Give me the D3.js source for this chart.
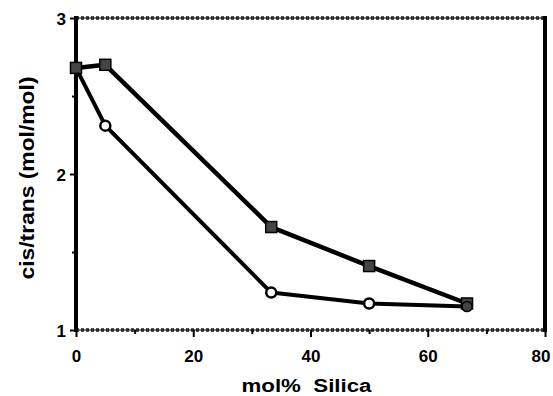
<!DOCTYPE html>
<html>
<head>
<meta charset="utf-8">
<script src="https://cdn.jsdelivr.net/npm/d3@7"></script>
<style>
  body { margin: 0; background: #fff; }
  text { font-family: "Liberation Sans", Arial, sans-serif; font-weight: bold; fill: #000; }
</style>
</head>
<body>
<svg id="chart" width="553" height="396"></svg>
<script>
const silica = [0, 5, 33.3, 50, 66.7];
const squareVals = [2.68, 2.70, 1.66, 1.41, 1.17];
const circleVals = [2.68, 2.31, 1.24, 1.17, 1.15];
const xTicks = [0, 20, 40, 60, 80];
const yTicks = [1, 2, 3];

const svg = d3.select("#chart"),
  margin = { top: 18, right: 8, bottom: 66, left: 76 },
  width = +svg.attr("width") - margin.left - margin.right,
  height = +svg.attr("height") - margin.top - margin.bottom;

const chart = svg.append("g")
  .attr("transform", `translate(${margin.left},${margin.top})`);

const x = d3.scaleLinear().domain([0, 80]).range([0, width]);
const y = d3.scaleLinear().domain([1, 3]).range([height, 0]);

// frame: stippled top/bottom, solid left/right
[0, height].forEach(yy => {
  chart.append("line").attr("x1", 0).attr("x2", width).attr("y1", yy).attr("y2", yy)
    .attr("stroke", "#555").attr("stroke-width", 4).attr("stroke-dasharray", "3,2");
  chart.append("line").attr("x1", 0).attr("x2", width).attr("y1", yy).attr("y2", yy)
    .attr("stroke", "#000").attr("stroke-width", 1.2);
});
[0, width].forEach(xx => {
  chart.append("line").attr("x1", xx).attr("x2", xx).attr("y1", -2).attr("y2", height + 2)
    .attr("stroke", "#000").attr("stroke-width", 4);
});

const xAxis = chart.append("g")
  .attr("transform", `translate(0,${height})`)
  .call(d3.axisBottom(x).tickValues(d3.range(0, 81, 10))
    .tickFormat(d => xTicks.includes(d) ? d : "")
    .tickSize(6).tickPadding(14));
xAxis.select(".domain").remove();
xAxis.selectAll("line").attr("stroke-width", 2)
  .attr("y2", d => xTicks.includes(d) ? 7 : 4);
xAxis.selectAll("text").attr("font-size", 17)
  .style("font-family", "Liberation Sans, Arial, sans-serif").style("font-weight", "bold");
xAxis.selectAll("text").filter(d => d === 80)
  .attr("text-anchor", "end").attr("dx", 5);

const yAxis = chart.append("g")
  .call(d3.axisLeft(y).tickValues([1, 1.5, 2, 2.5, 3])
    .tickFormat(d => yTicks.includes(d) ? d : "")
    .tickSize(5).tickPadding(5));
yAxis.select(".domain").remove();
yAxis.selectAll("line").attr("stroke-width", 2)
  .attr("x2", d => yTicks.includes(d) ? -6 : -4);
yAxis.selectAll("text").attr("font-size", 17).attr("dy", "0.36em")
  .style("font-family", "Liberation Sans, Arial, sans-serif").style("font-weight", "bold");

chart.append("text")
  .attr("text-anchor", "middle")
  .attr("x", x(40) - 4)
  .attr("y", height + 62)
  .attr("font-size", 18)
  .attr("textLength", 130)
  .attr("lengthAdjust", "spacingAndGlyphs")
  .attr("xml:space", "preserve")
  .text("mol%  Silica");

chart.append("text")
  .attr("text-anchor", "middle")
  .attr("transform", "rotate(-90)")
  .attr("x", -(178 - margin.top))
  .attr("y", -42)
  .attr("font-size", 20)
  .attr("textLength", 203)
  .attr("lengthAdjust", "spacingAndGlyphs")
  .text("cis/trans (mol/mol)");

const line = d3.line().x(d => x(d[0])).y(d => y(d[1]));
const squares = silica.map((s, i) => [s, squareVals[i]]);
const circles = silica.map((s, i) => [s, circleVals[i]]);

chart.append("path").datum(squares)
  .attr("fill", "none").attr("stroke", "#000").attr("stroke-width", 4.5)
  .attr("stroke-linejoin", "round").attr("d", line);
chart.append("path").datum(circles)
  .attr("fill", "none").attr("stroke", "#000").attr("stroke-width", 4)
  .attr("stroke-linejoin", "round").attr("d", line);

chart.selectAll("circle.pt").data(circles.slice(1, 4))
  .join("circle").attr("class", "pt")
  .attr("cx", d => x(d[0])).attr("cy", d => y(d[1]))
  .attr("r", 5).attr("fill", "#fff").attr("stroke", "#000").attr("stroke-width", 2.5);

chart.selectAll("rect.pt").data(squares)
  .join("rect").attr("class", "pt")
  .attr("x", d => x(d[0]) - 5.5).attr("y", d => y(d[1]) - 5.5)
  .attr("width", 11).attr("height", 11)
  .attr("fill", "#444").attr("stroke", "#000").attr("stroke-width", 1.5);

chart.append("circle")
  .attr("cx", x(silica[4])).attr("cy", y(circleVals[4]))
  .attr("r", 5).attr("fill", "#444").attr("stroke", "#000").attr("stroke-width", 1.5);
</script>
</body>
</html>
